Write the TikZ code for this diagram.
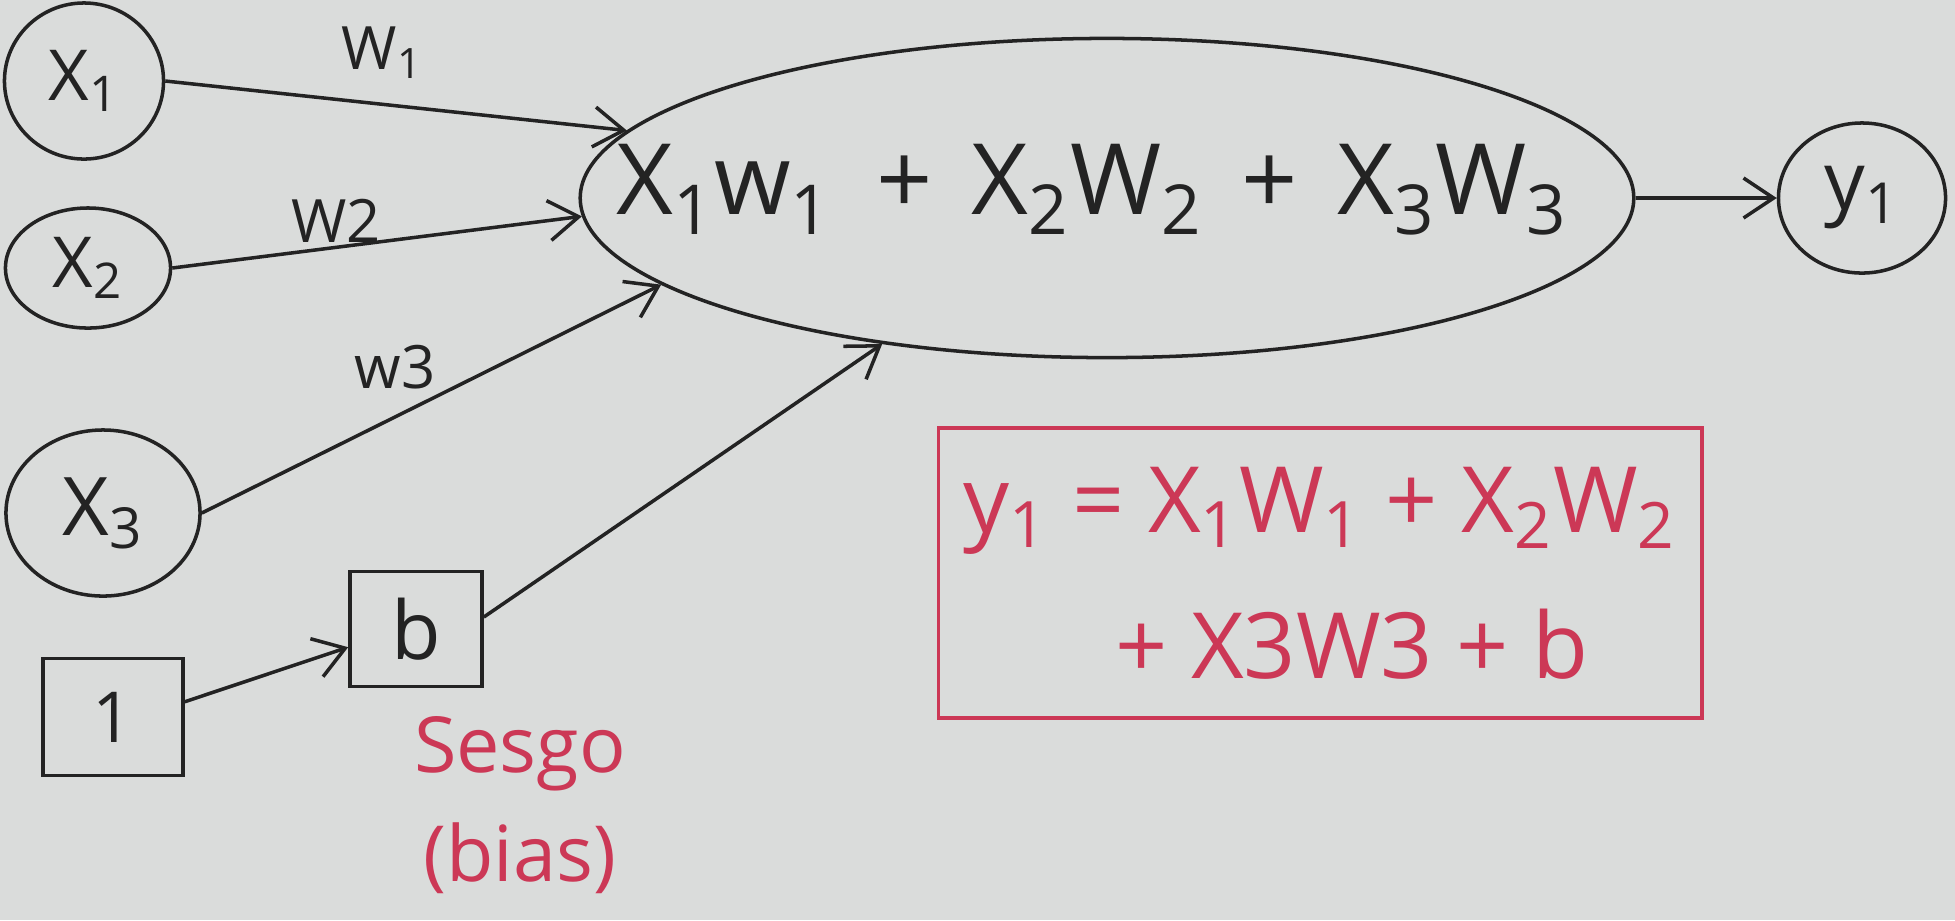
\documentclass[tikz,border=0pt]{standalone}
\usepackage{fontspec}
\setmainfont{Open Sans}
\usetikzlibrary{shapes.geometric,arrows.meta}

\definecolor{paper}{RGB}{218,220,219}
\definecolor{ink}{RGB}{35,35,35}
\definecolor{redink}{RGB}{204,56,86}

\begin{document}
\begin{tikzpicture}[x=0.01cm, y=-0.01cm,
		blob/.style={draw=ink, ellipse, inner sep=0pt, line width=1pt, text=ink, font=\fontsize{20}{22}\selectfont},
		boxed/.style={draw=ink, rectangle, inner sep=0pt, line width=1pt, text=ink, font=\fontsize{20}{22}\selectfont},
		wire/.style={draw=ink, line width=1pt, -{Straight Barb[length=3mm,width=4mm]}},
		wlabel/.style={text=ink, font=\fontsize{17}{19}\selectfont}]
		\useasboundingbox (0,0) rectangle (1955,920);
		\fill[paper] (0,0) rectangle (1955,920);
		% inputs and bias
		\node[blob, minimum width=1.59cm, minimum height=1.56cm] (x1) at (84,81) {X\textsubscript{1}};
		\node[blob, minimum width=1.65cm, minimum height=1.2cm] (x2) at (88,268) {X\textsubscript{2}};
		\node[blob, minimum width=1.94cm, minimum height=1.66cm, font=\fontsize{23}{25}\selectfont] (x3) at (103,513) {X\textsubscript{3}};
		\node[boxed, minimum width=1.4cm, minimum height=1.17cm] (one) at (113,717) {1};
		\node[boxed, minimum width=1.32cm, minimum height=1.15cm, font=\fontsize{23}{25}\selectfont] (b) at (416,629) {b};
		% weighted sum and output
		\node[draw=ink, ellipse, line width=1pt, minimum width=10.53cm, minimum height=3.19cm] (sum) at (1107,198) {};
		\node[text=ink, font=\fontsize{28}{30}\selectfont] (sumtext) at (1092,190) {X\textsubscript{1}w\textsubscript{1}\hspace{0.45em}+\hspace{0.4em}X\textsubscript{2}W\textsubscript{2}\hspace{0.4em}+\hspace{0.4em}X\textsubscript{3}W\textsubscript{3}};
		\node[blob, minimum width=1.67cm, minimum height=1.5cm, font=\fontsize{23}{25}\selectfont] (y1) at (1862,198) {y\textsubscript{1}};
		\draw[wire] (x1.east) -- node[wlabel, above=0.12cm, pos=0.47] {W\textsubscript{1}} (sum.172);
		\draw[wire] (x2.east) -- node[wlabel, above, pos=0.4, inner sep=1pt] {W2} (sum.182);
		\draw[wire] (x3.east) -- node[wlabel, above left, pos=0.52, inner sep=1pt] {w3} (sum.191);
		\draw[wire] (one.12) -- (b.195);
		\draw[wire] (b.10) -- (sum.213);
		\draw[wire] (sum.east) -- (y1.west);
		% red notes
		\node[draw=redink, line width=1pt, text=redink, minimum width=7.63cm, minimum height=2.9cm, align=center, font=\fontsize{26}{41.5}\selectfont] (eq) at (1320,573) {y\textsubscript{1} = X\textsubscript{1}W\textsubscript{1} + X\textsubscript{2}W\textsubscript{2}\\ \hspace{0.7em}+ X3W3 + b};
		\node[text=redink, align=center, font=\fontsize{22}{31}\selectfont] (bias) at (520,805) {Sesgo\\(bias)};
\end{tikzpicture}
\end{document}
